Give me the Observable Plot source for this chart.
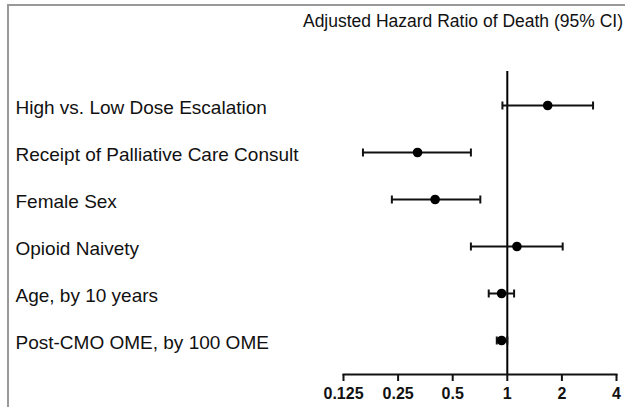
<!DOCTYPE html>
<html><head><meta charset="utf-8">
<script src="https://cdn.jsdelivr.net/npm/d3@7"></script>
<script src="https://cdn.jsdelivr.net/npm/@observablehq/plot@0.6"></script>
<style>
body{margin:0;background:#fff;font-family:"Liberation Sans",Arial,sans-serif;}
#wrap{position:relative;width:625px;height:407px;overflow:hidden}
#border{position:absolute;left:7px;top:4px;width:700px;height:500px;border-left:2px solid #999;border-top:2px solid #999}
#title{position:absolute;right:2px;top:11px;font-size:17.5px;line-height:20px;color:#111;white-space:nowrap}
#chart{position:absolute;left:0;top:40px}
</style></head><body>
<div id="wrap"><div id="border"></div><div id="title">Adjusted Hazard Ratio of Death (95% CI)</div><div id="chart"></div></div>
<script>
const categories = ["High vs. Low Dose Escalation","Receipt of Palliative Care Consult","Female Sex","Opioid Naivety","Age, by 10 years","Post-CMO OME, by 100 OME"];
const estimates = [1.67, 0.32, 0.40, 1.13, 0.93, 0.93];
const lower = [0.94, 0.16, 0.231, 0.63, 0.79, 0.875];
const upper = [2.97, 0.63, 0.71, 2.02, 1.09, 1.0];
const xTicks = [0.125, 0.25, 0.5, 1, 2, 4];
const xTickLabels = ["0.125", "0.25", "0.5", "1", "2", "4"];
const referenceValue = [1];

const rows = categories.map((c, i) => ({cat: c, est: estimates[i], lo: lower[i], hi: upper[i]}));
const labelMap = new Map(xTicks.map((t, i) => [t, xTickLabels[i]]));
const capSymbol = {draw(context) { context.moveTo(0, -4); context.lineTo(0, 4); }};

const chart = Plot.plot({
  width: 625, height: 367,
  marginLeft: 343, marginRight: 9, marginTop: 31, marginBottom: 33,
  style: {fontFamily: '"Liberation Sans", Arial, sans-serif', color: "#111", background: "transparent"},
  x: {type: "log", base: 2, domain: [0.125, 4]},
  y: {type: "point", domain: categories, padding: 0.68, axis: null},
  marks: [
    Plot.ruleX(referenceValue, {stroke: "#000", strokeWidth: 2}),
    Plot.ruleY(rows, {y: "cat", x1: "lo", x2: "hi", stroke: "#111", strokeWidth: 2}),
    Plot.dot(rows, {x: "lo", y: "cat", symbol: capSymbol, stroke: "#111", strokeWidth: 2, fill: "none"}),
    Plot.dot(rows, {x: "hi", y: "cat", symbol: capSymbol, stroke: "#111", strokeWidth: 2, fill: "none"}),
    Plot.dot(rows, {x: "est", y: "cat", r: 4.8, fill: "#000"}),
    Plot.text(rows, {y: "cat", text: "cat", frameAnchor: "left", textAnchor: "start", dx: -328, dy: 2, fontSize: 19, fill: "#111"}),
    Plot.axisX(xTicks, {anchor: "bottom", tickSize: 7, tickPadding: 6.5, tickFormat: d => labelMap.get(d), fontSize: 16, fontWeight: "bold", strokeWidth: 2, label: null}),
    Plot.frame({anchor: "bottom", strokeWidth: 2, stroke: "#111"})
  ]
});
document.getElementById("chart").appendChild(chart);
</script>
</body></html>
